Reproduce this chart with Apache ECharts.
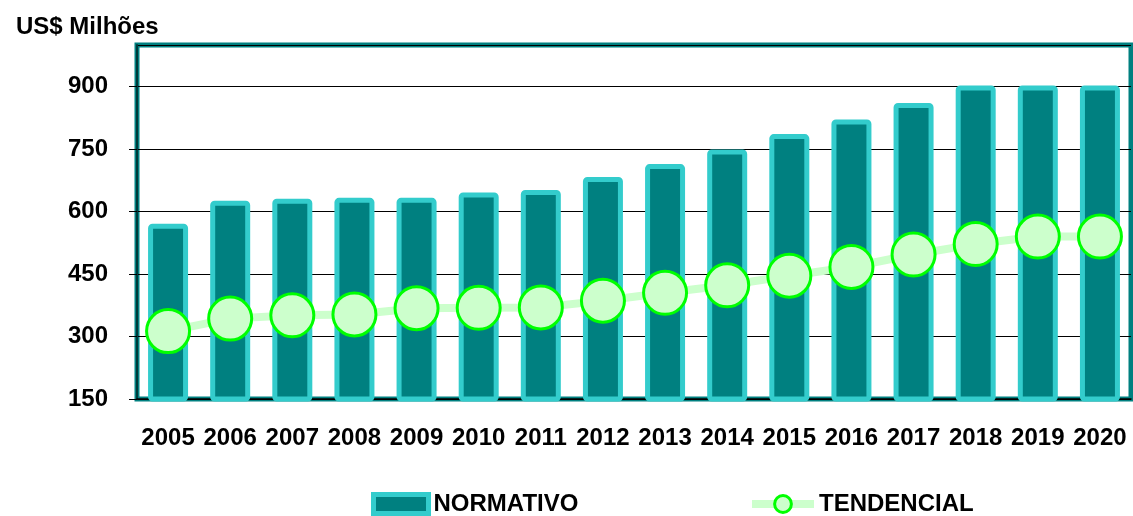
<!DOCTYPE html>
<html>
<head>
<meta charset="utf-8">
<script src="https://cdn.jsdelivr.net/npm/echarts@6/dist/echarts.min.js"></script>
<style>
html,body{margin:0;padding:0;background:#fff}
#chart{width:1133px;height:516px}
</style>
</head>
<body>
<div id="chart"></div>
<script>
var anos = ['2005','2006','2007','2008','2009','2010','2011','2012','2013','2014','2015','2016','2017','2018','2019','2020'];
var normativo = [571, 626, 631, 633, 633, 646, 652, 683, 714, 749, 786, 821, 861, 903, 903, 903];
var tendencial = [313, 343, 351, 353, 368, 369, 370, 386, 405, 423, 446, 467, 497, 522, 540, 540];
var yMin = 150, yMax = 1000, yStep = 150;

var fonte = 'Liberation Sans, Arial, sans-serif';
var chart = echarts.init(document.getElementById('chart'));

var option = {
    animation: false,
    title: {
        text: 'US$ Milhões',
        left: 11, top: 10,
        textStyle: {fontFamily: fonte, fontSize: 24, fontWeight: 'bold', color: '#000'}
    },
    legend: [{
        left: 366, top: 487,
        data: [{name: 'NORMATIVO', icon: 'rect'}],
        itemWidth: 55, itemHeight: 19,
        itemStyle: {borderWidth: 5},
        textStyle: {fontFamily: fonte, fontSize: 24, fontWeight: 'bold', color: '#000'}
    }, {
        left: 743, top: 487,
        data: ['TENDENCIAL'],
        itemWidth: 62, itemHeight: 21,
        itemStyle: {borderWidth: 3},
        lineStyle: {width: 8},
        textStyle: {fontFamily: fonte, fontSize: 24, fontWeight: 'bold', color: '#000'}
    }],
    grid: {
        left: 137, right: 2, top: 45, bottom: 117,
        show: true,
        borderColor: '#008080', borderWidth: 5
    },
    xAxis: {
        type: 'category',
        data: anos,
        axisLine: {lineStyle: {color: '#000', width: 1.5}},
        axisTick: {length: 8, lineStyle: {color: '#000'}},
        axisLabel: {interval: 0, fontFamily: fonte, fontSize: 24, fontWeight: 'bold', color: '#000', margin: 27}
    },
    yAxis: {
        type: 'value',
        min: yMin, max: yMax, interval: yStep,
        axisLine: {show: true, lineStyle: {color: '#003a3a', width: 2}},
        axisTick: {show: true, length: 8, lineStyle: {color: '#000'}},
        axisLabel: {fontFamily: fonte, fontSize: 24, fontWeight: 'bold', color: '#000', margin: 29, showMaxLabel: false},
        splitLine: {lineStyle: {color: '#000', width: 1}}
    },
    series: [{
        name: 'NORMATIVO',
        type: 'bar',
        data: normativo,
        barWidth: 40,
        itemStyle: {color: '#008080', borderColor: '#33CCCC', borderWidth: 5, borderRadius: 2},
        z: 2
    }, {
        name: 'TENDENCIAL',
        type: 'line',
        data: tendencial,
        symbol: 'circle',
        symbolSize: 43,
        showAllSymbol: true,
        lineStyle: {color: '#CCFFCC', width: 8},
        itemStyle: {color: '#CCFFCC', borderColor: '#00FF00', borderWidth: 3},
        z: 3
    }]
};
chart.setOption(option);
</script>
</body>
</html>
